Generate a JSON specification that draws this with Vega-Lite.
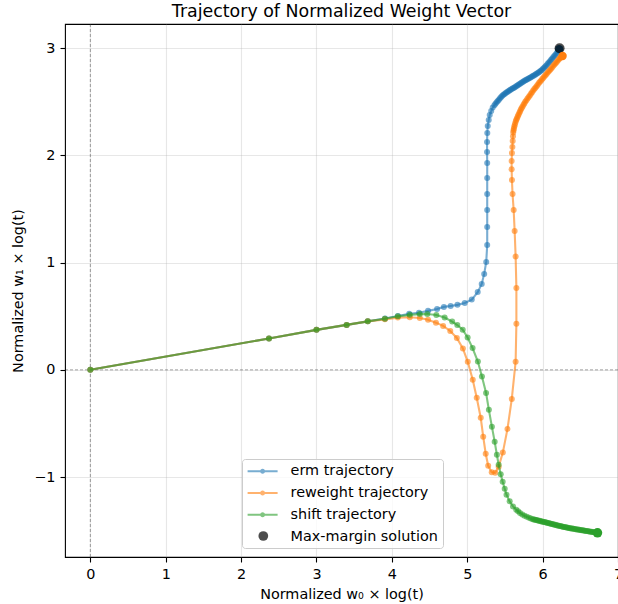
{
  "$schema": "https://vega.github.io/schema/vega-lite/v6.json",
  "width": 553,
  "height": 533,
  "autosize": {"type": "none"},
  "padding": {"left": 65, "top": 24, "right": 0, "bottom": 47},
  "background": "white",
  "title": {"text": "Trajectory of Normalized Weight Vector", "fontSize": 17.4, "font": "DejaVu Sans", "fontWeight": "normal", "color": "#000000", "anchor": "middle", "frame": "group", "offset": 3},
  "config": {
    "font": "DejaVu Sans",
    "view": {"stroke": "#000000", "strokeWidth": 1.1},
    "axis": {"labelFont": "DejaVu Sans", "titleFont": "DejaVu Sans", "labelFontSize": 14.4, "titleFontSize": 14.4, "titleFontWeight": "normal", "labelColor": "#000000", "titleColor": "#000000", "tickColor": "#000000", "tickWidth": 1.1, "tickSize": 5, "domain": false, "gridColor": "#b0b0b0", "gridOpacity": 0.3, "gridWidth": 1.1}
  },
  "datasets": {
    "erm": [
      {"series":"erm trajectory","i":0,"x":0,"y":0},
      {"series":"erm trajectory","i":1,"x":2.37,"y":0.292},
      {"series":"erm trajectory","i":2,"x":3.0,"y":0.373},
      {"series":"erm trajectory","i":3,"x":3.4,"y":0.419},
      {"series":"erm trajectory","i":4,"x":3.68,"y":0.452},
      {"series":"erm trajectory","i":5,"x":3.91,"y":0.478},
      {"series":"erm trajectory","i":6,"x":4.08,"y":0.503},
      {"series":"erm trajectory","i":7,"x":4.23,"y":0.522},
      {"series":"erm trajectory","i":8,"x":4.36,"y":0.533},
      {"series":"erm trajectory","i":9,"x":4.48,"y":0.55},
      {"series":"erm trajectory","i":10,"x":4.6,"y":0.568},
      {"series":"erm trajectory","i":11,"x":4.69,"y":0.587},
      {"series":"erm trajectory","i":12,"x":4.78,"y":0.596},
      {"series":"erm trajectory","i":13,"x":4.87,"y":0.606},
      {"series":"erm trajectory","i":14,"x":4.967,"y":0.624},
      {"series":"erm trajectory","i":15,"x":5.06,"y":0.655},
      {"series":"erm trajectory","i":16,"x":5.139,"y":0.725},
      {"series":"erm trajectory","i":17,"x":5.192,"y":0.801},
      {"series":"erm trajectory","i":18,"x":5.225,"y":0.895},
      {"series":"erm trajectory","i":19,"x":5.252,"y":1.007},
      {"series":"erm trajectory","i":20,"x":5.265,"y":1.165},
      {"series":"erm trajectory","i":21,"x":5.265,"y":1.333},
      {"series":"erm trajectory","i":22,"x":5.265,"y":1.491},
      {"series":"erm trajectory","i":23,"x":5.265,"y":1.64},
      {"series":"erm trajectory","i":24,"x":5.265,"y":1.789},
      {"series":"erm trajectory","i":25,"x":5.265,"y":1.929},
      {"series":"erm trajectory","i":26,"x":5.263,"y":2.032},
      {"series":"erm trajectory","i":27,"x":5.263,"y":2.125},
      {"series":"erm trajectory","i":28,"x":5.266,"y":2.209},
      {"series":"erm trajectory","i":29,"x":5.272,"y":2.274},
      {"series":"erm trajectory","i":30,"x":5.285,"y":2.33},
      {"series":"erm trajectory","i":31,"x":5.298,"y":2.377},
      {"series":"erm trajectory","i":32,"x":5.318,"y":2.414},
      {"series":"erm trajectory","i":33,"x":5.338,"y":2.446},
      {"series":"erm trajectory","i":34,"x":5.36,"y":2.468},
      {"series":"erm trajectory","i":34.5,"x":5.375,"y":2.482},
      {"series":"erm trajectory","i":35,"x":5.39,"y":2.495},
      {"series":"erm trajectory","i":35.5,"x":5.405,"y":2.508},
      {"series":"erm trajectory","i":36,"x":5.42,"y":2.52},
      {"series":"erm trajectory","i":36.5,"x":5.435,"y":2.533},
      {"series":"erm trajectory","i":37,"x":5.45,"y":2.545},
      {"series":"erm trajectory","i":37.5,"x":5.465,"y":2.556},
      {"series":"erm trajectory","i":38,"x":5.48,"y":2.566},
      {"series":"erm trajectory","i":38.5,"x":5.495,"y":2.574},
      {"series":"erm trajectory","i":39,"x":5.51,"y":2.582},
      {"series":"erm trajectory","i":39.5,"x":5.525,"y":2.59},
      {"series":"erm trajectory","i":40,"x":5.54,"y":2.597},
      {"series":"erm trajectory","i":40.5,"x":5.555,"y":2.604},
      {"series":"erm trajectory","i":41,"x":5.57,"y":2.611},
      {"series":"erm trajectory","i":41.5,"x":5.585,"y":2.618},
      {"series":"erm trajectory","i":42,"x":5.6,"y":2.624},
      {"series":"erm trajectory","i":42.5,"x":5.615,"y":2.63},
      {"series":"erm trajectory","i":43,"x":5.63,"y":2.637},
      {"series":"erm trajectory","i":43.5,"x":5.645,"y":2.643},
      {"series":"erm trajectory","i":44,"x":5.66,"y":2.65},
      {"series":"erm trajectory","i":44.5,"x":5.675,"y":2.657},
      {"series":"erm trajectory","i":45,"x":5.69,"y":2.664},
      {"series":"erm trajectory","i":45.5,"x":5.705,"y":2.671},
      {"series":"erm trajectory","i":46,"x":5.72,"y":2.678},
      {"series":"erm trajectory","i":46.5,"x":5.735,"y":2.685},
      {"series":"erm trajectory","i":47,"x":5.75,"y":2.691},
      {"series":"erm trajectory","i":47.5,"x":5.765,"y":2.698},
      {"series":"erm trajectory","i":48,"x":5.78,"y":2.704},
      {"series":"erm trajectory","i":48.5,"x":5.795,"y":2.71},
      {"series":"erm trajectory","i":49,"x":5.81,"y":2.716},
      {"series":"erm trajectory","i":49.5,"x":5.825,"y":2.722},
      {"series":"erm trajectory","i":50,"x":5.84,"y":2.728},
      {"series":"erm trajectory","i":50.5,"x":5.855,"y":2.734},
      {"series":"erm trajectory","i":51,"x":5.87,"y":2.74},
      {"series":"erm trajectory","i":51.5,"x":5.885,"y":2.746},
      {"series":"erm trajectory","i":52,"x":5.9,"y":2.753},
      {"series":"erm trajectory","i":52.5,"x":5.915,"y":2.76},
      {"series":"erm trajectory","i":53,"x":5.93,"y":2.766},
      {"series":"erm trajectory","i":53.5,"x":5.945,"y":2.773},
      {"series":"erm trajectory","i":54,"x":5.96,"y":2.78},
      {"series":"erm trajectory","i":54.5,"x":5.975,"y":2.789},
      {"series":"erm trajectory","i":55,"x":5.99,"y":2.798},
      {"series":"erm trajectory","i":55.5,"x":6.005,"y":2.808},
      {"series":"erm trajectory","i":56,"x":6.02,"y":2.818},
      {"series":"erm trajectory","i":56.5,"x":6.035,"y":2.829},
      {"series":"erm trajectory","i":57,"x":6.05,"y":2.84},
      {"series":"erm trajectory","i":57.5,"x":6.065,"y":2.852},
      {"series":"erm trajectory","i":58,"x":6.08,"y":2.864},
      {"series":"erm trajectory","i":58.5,"x":6.095,"y":2.877},
      {"series":"erm trajectory","i":59,"x":6.11,"y":2.89},
      {"series":"erm trajectory","i":59.5,"x":6.125,"y":2.903},
      {"series":"erm trajectory","i":60,"x":6.14,"y":2.916},
      {"series":"erm trajectory","i":60.5,"x":6.155,"y":2.928},
      {"series":"erm trajectory","i":61,"x":6.17,"y":2.94},
      {"series":"erm trajectory","i":61.5,"x":6.185,"y":2.953},
      {"series":"erm trajectory","i":62,"x":6.2,"y":2.966},
      {"series":"erm trajectory","i":62.5,"x":6.21,"y":2.978},
      {"series":"erm trajectory","i":63,"x":6.22,"y":2.99}
    ],
    "reweight": [
      {"series":"reweight trajectory","i":0,"x":0,"y":0},
      {"series":"reweight trajectory","i":1,"x":2.37,"y":0.292},
      {"series":"reweight trajectory","i":2,"x":3.0,"y":0.373},
      {"series":"reweight trajectory","i":3,"x":3.4,"y":0.419},
      {"series":"reweight trajectory","i":4,"x":3.68,"y":0.452},
      {"series":"reweight trajectory","i":5,"x":3.907,"y":0.471},
      {"series":"reweight trajectory","i":6,"x":4.079,"y":0.487},
      {"series":"reweight trajectory","i":7,"x":4.238,"y":0.491},
      {"series":"reweight trajectory","i":8,"x":4.371,"y":0.483},
      {"series":"reweight trajectory","i":9,"x":4.48,"y":0.468},
      {"series":"reweight trajectory","i":10,"x":4.585,"y":0.44},
      {"series":"reweight trajectory","i":11,"x":4.68,"y":0.41},
      {"series":"reweight trajectory","i":12,"x":4.775,"y":0.362},
      {"series":"reweight trajectory","i":13,"x":4.862,"y":0.297},
      {"series":"reweight trajectory","i":14,"x":4.942,"y":0.2},
      {"series":"reweight trajectory","i":15,"x":5.007,"y":0.075},
      {"series":"reweight trajectory","i":16,"x":5.073,"y":-0.093},
      {"series":"reweight trajectory","i":17,"x":5.126,"y":-0.261},
      {"series":"reweight trajectory","i":18,"x":5.179,"y":-0.447},
      {"series":"reweight trajectory","i":19,"x":5.212,"y":-0.624},
      {"series":"reweight trajectory","i":20,"x":5.245,"y":-0.783},
      {"series":"reweight trajectory","i":21,"x":5.278,"y":-0.895},
      {"series":"reweight trajectory","i":22,"x":5.325,"y":-0.955},
      {"series":"reweight trajectory","i":23,"x":5.371,"y":-0.96},
      {"series":"reweight trajectory","i":24,"x":5.417,"y":-0.904},
      {"series":"reweight trajectory","i":25,"x":5.472,"y":-0.772},
      {"series":"reweight trajectory","i":26,"x":5.534,"y":-0.551},
      {"series":"reweight trajectory","i":27,"x":5.591,"y":-0.271},
      {"series":"reweight trajectory","i":28,"x":5.642,"y":0.075},
      {"series":"reweight trajectory","i":29,"x":5.652,"y":0.429},
      {"series":"reweight trajectory","i":30,"x":5.652,"y":0.764},
      {"series":"reweight trajectory","i":31,"x":5.642,"y":1.058},
      {"series":"reweight trajectory","i":32,"x":5.629,"y":1.295},
      {"series":"reweight trajectory","i":33,"x":5.616,"y":1.491},
      {"series":"reweight trajectory","i":34,"x":5.601,"y":1.64},
      {"series":"reweight trajectory","i":35,"x":5.593,"y":1.771},
      {"series":"reweight trajectory","i":36,"x":5.589,"y":1.87},
      {"series":"reweight trajectory","i":37,"x":5.589,"y":1.948},
      {"series":"reweight trajectory","i":38,"x":5.593,"y":2.022},
      {"series":"reweight trajectory","i":39,"x":5.599,"y":2.078},
      {"series":"reweight trajectory","i":40,"x":5.603,"y":2.134},
      {"series":"reweight trajectory","i":41,"x":5.607,"y":2.18},
      {"series":"reweight trajectory","i":42,"x":5.61,"y":2.215},
      {"series":"reweight trajectory","i":42.5,"x":5.614,"y":2.232},
      {"series":"reweight trajectory","i":43,"x":5.618,"y":2.25},
      {"series":"reweight trajectory","i":43.5,"x":5.624,"y":2.268},
      {"series":"reweight trajectory","i":44,"x":5.63,"y":2.285},
      {"series":"reweight trajectory","i":44.5,"x":5.637,"y":2.302},
      {"series":"reweight trajectory","i":45,"x":5.645,"y":2.32},
      {"series":"reweight trajectory","i":45.5,"x":5.653,"y":2.335},
      {"series":"reweight trajectory","i":46,"x":5.662,"y":2.35},
      {"series":"reweight trajectory","i":46.5,"x":5.671,"y":2.365},
      {"series":"reweight trajectory","i":47,"x":5.68,"y":2.38},
      {"series":"reweight trajectory","i":47.5,"x":5.69,"y":2.395},
      {"series":"reweight trajectory","i":48,"x":5.7,"y":2.41},
      {"series":"reweight trajectory","i":48.5,"x":5.71,"y":2.425},
      {"series":"reweight trajectory","i":49,"x":5.72,"y":2.44},
      {"series":"reweight trajectory","i":49.5,"x":5.732,"y":2.455},
      {"series":"reweight trajectory","i":50,"x":5.745,"y":2.47},
      {"series":"reweight trajectory","i":50.5,"x":5.757,"y":2.485},
      {"series":"reweight trajectory","i":51,"x":5.77,"y":2.5},
      {"series":"reweight trajectory","i":51.5,"x":5.785,"y":2.515},
      {"series":"reweight trajectory","i":52,"x":5.8,"y":2.53},
      {"series":"reweight trajectory","i":52.5,"x":5.815,"y":2.545},
      {"series":"reweight trajectory","i":53,"x":5.83,"y":2.56},
      {"series":"reweight trajectory","i":53.5,"x":5.845,"y":2.575},
      {"series":"reweight trajectory","i":54,"x":5.86,"y":2.59},
      {"series":"reweight trajectory","i":54.5,"x":5.875,"y":2.605},
      {"series":"reweight trajectory","i":55,"x":5.89,"y":2.62},
      {"series":"reweight trajectory","i":55.5,"x":5.905,"y":2.632},
      {"series":"reweight trajectory","i":56,"x":5.92,"y":2.645},
      {"series":"reweight trajectory","i":56.5,"x":5.935,"y":2.66},
      {"series":"reweight trajectory","i":57,"x":5.95,"y":2.675},
      {"series":"reweight trajectory","i":57.5,"x":5.965,"y":2.688},
      {"series":"reweight trajectory","i":58,"x":5.98,"y":2.7},
      {"series":"reweight trajectory","i":58.5,"x":5.995,"y":2.712},
      {"series":"reweight trajectory","i":59,"x":6.01,"y":2.725},
      {"series":"reweight trajectory","i":59.5,"x":6.025,"y":2.738},
      {"series":"reweight trajectory","i":60,"x":6.04,"y":2.75},
      {"series":"reweight trajectory","i":60.5,"x":6.055,"y":2.762},
      {"series":"reweight trajectory","i":61,"x":6.07,"y":2.775},
      {"series":"reweight trajectory","i":61.5,"x":6.085,"y":2.788},
      {"series":"reweight trajectory","i":62,"x":6.1,"y":2.8},
      {"series":"reweight trajectory","i":62.5,"x":6.115,"y":2.812},
      {"series":"reweight trajectory","i":63,"x":6.13,"y":2.825},
      {"series":"reweight trajectory","i":63.5,"x":6.145,"y":2.838},
      {"series":"reweight trajectory","i":64,"x":6.16,"y":2.85},
      {"series":"reweight trajectory","i":64.5,"x":6.175,"y":2.862},
      {"series":"reweight trajectory","i":65,"x":6.19,"y":2.875},
      {"series":"reweight trajectory","i":65.5,"x":6.205,"y":2.888},
      {"series":"reweight trajectory","i":66,"x":6.22,"y":2.9},
      {"series":"reweight trajectory","i":66.5,"x":6.232,"y":2.908},
      {"series":"reweight trajectory","i":67,"x":6.245,"y":2.915},
      {"series":"reweight trajectory","i":67.5,"x":6.255,"y":2.921},
      {"series":"reweight trajectory","i":68,"x":6.265,"y":2.927}
    ],
    "shift": [
      {"series":"shift trajectory","i":0,"x":0,"y":0},
      {"series":"shift trajectory","i":1,"x":2.37,"y":0.292},
      {"series":"shift trajectory","i":2,"x":3.0,"y":0.373},
      {"series":"shift trajectory","i":3,"x":3.4,"y":0.419},
      {"series":"shift trajectory","i":4,"x":3.68,"y":0.452},
      {"series":"shift trajectory","i":5,"x":3.907,"y":0.476},
      {"series":"shift trajectory","i":6,"x":4.079,"y":0.499},
      {"series":"shift trajectory","i":7,"x":4.238,"y":0.513},
      {"series":"shift trajectory","i":8,"x":4.371,"y":0.52},
      {"series":"shift trajectory","i":9,"x":4.47,"y":0.521},
      {"series":"shift trajectory","i":10,"x":4.59,"y":0.511},
      {"series":"shift trajectory","i":11,"x":4.7,"y":0.488},
      {"series":"shift trajectory","i":12,"x":4.8,"y":0.45},
      {"series":"shift trajectory","i":13,"x":4.868,"y":0.418},
      {"series":"shift trajectory","i":14,"x":4.94,"y":0.375},
      {"series":"shift trajectory","i":15,"x":5.005,"y":0.302},
      {"series":"shift trajectory","i":16,"x":5.071,"y":0.203},
      {"series":"shift trajectory","i":17,"x":5.141,"y":0.077},
      {"series":"shift trajectory","i":18,"x":5.195,"y":-0.063},
      {"series":"shift trajectory","i":19,"x":5.25,"y":-0.215},
      {"series":"shift trajectory","i":20,"x":5.287,"y":-0.373},
      {"series":"shift trajectory","i":21,"x":5.327,"y":-0.53},
      {"series":"shift trajectory","i":22,"x":5.364,"y":-0.67},
      {"series":"shift trajectory","i":23,"x":5.393,"y":-0.792},
      {"series":"shift trajectory","i":24,"x":5.417,"y":-0.885},
      {"series":"shift trajectory","i":25,"x":5.444,"y":-0.974},
      {"series":"shift trajectory","i":26,"x":5.47,"y":-1.044},
      {"series":"shift trajectory","i":27,"x":5.497,"y":-1.109},
      {"series":"shift trajectory","i":28,"x":5.521,"y":-1.165},
      {"series":"shift trajectory","i":29,"x":5.563,"y":-1.227},
      {"series":"shift trajectory","i":30,"x":5.607,"y":-1.274},
      {"series":"shift trajectory","i":31,"x":5.65,"y":-1.305},
      {"series":"shift trajectory","i":31.5,"x":5.675,"y":-1.32},
      {"series":"shift trajectory","i":32,"x":5.7,"y":-1.335},
      {"series":"shift trajectory","i":32.5,"x":5.73,"y":-1.349},
      {"series":"shift trajectory","i":33,"x":5.76,"y":-1.362},
      {"series":"shift trajectory","i":33.5,"x":5.79,"y":-1.371},
      {"series":"shift trajectory","i":34,"x":5.82,"y":-1.38},
      {"series":"shift trajectory","i":34.5,"x":5.845,"y":-1.388},
      {"series":"shift trajectory","i":35,"x":5.87,"y":-1.395},
      {"series":"shift trajectory","i":35.5,"x":5.885,"y":-1.397},
      {"series":"shift trajectory","i":36,"x":5.9,"y":-1.399},
      {"series":"shift trajectory","i":36.5,"x":5.915,"y":-1.402},
      {"series":"shift trajectory","i":37,"x":5.93,"y":-1.404},
      {"series":"shift trajectory","i":37.5,"x":5.945,"y":-1.407},
      {"series":"shift trajectory","i":38,"x":5.96,"y":-1.409},
      {"series":"shift trajectory","i":38.5,"x":5.975,"y":-1.412},
      {"series":"shift trajectory","i":39,"x":5.99,"y":-1.414},
      {"series":"shift trajectory","i":39.5,"x":6.005,"y":-1.417},
      {"series":"shift trajectory","i":40,"x":6.02,"y":-1.419},
      {"series":"shift trajectory","i":40.5,"x":6.035,"y":-1.422},
      {"series":"shift trajectory","i":41,"x":6.05,"y":-1.425},
      {"series":"shift trajectory","i":41.5,"x":6.065,"y":-1.428},
      {"series":"shift trajectory","i":42,"x":6.08,"y":-1.43},
      {"series":"shift trajectory","i":42.5,"x":6.095,"y":-1.433},
      {"series":"shift trajectory","i":43,"x":6.11,"y":-1.436},
      {"series":"shift trajectory","i":43.5,"x":6.125,"y":-1.439},
      {"series":"shift trajectory","i":44,"x":6.14,"y":-1.441},
      {"series":"shift trajectory","i":44.5,"x":6.155,"y":-1.444},
      {"series":"shift trajectory","i":45,"x":6.17,"y":-1.446},
      {"series":"shift trajectory","i":45.5,"x":6.185,"y":-1.449},
      {"series":"shift trajectory","i":46,"x":6.2,"y":-1.452},
      {"series":"shift trajectory","i":46.5,"x":6.215,"y":-1.455},
      {"series":"shift trajectory","i":47,"x":6.23,"y":-1.457},
      {"series":"shift trajectory","i":47.5,"x":6.245,"y":-1.46},
      {"series":"shift trajectory","i":48,"x":6.26,"y":-1.462},
      {"series":"shift trajectory","i":48.5,"x":6.275,"y":-1.465},
      {"series":"shift trajectory","i":49,"x":6.29,"y":-1.467},
      {"series":"shift trajectory","i":49.5,"x":6.305,"y":-1.469},
      {"series":"shift trajectory","i":50,"x":6.32,"y":-1.471},
      {"series":"shift trajectory","i":50.5,"x":6.335,"y":-1.473},
      {"series":"shift trajectory","i":51,"x":6.35,"y":-1.475},
      {"series":"shift trajectory","i":51.5,"x":6.365,"y":-1.477},
      {"series":"shift trajectory","i":52,"x":6.38,"y":-1.479},
      {"series":"shift trajectory","i":52.5,"x":6.395,"y":-1.481},
      {"series":"shift trajectory","i":53,"x":6.41,"y":-1.483},
      {"series":"shift trajectory","i":53.5,"x":6.425,"y":-1.485},
      {"series":"shift trajectory","i":54,"x":6.44,"y":-1.487},
      {"series":"shift trajectory","i":54.5,"x":6.455,"y":-1.489},
      {"series":"shift trajectory","i":55,"x":6.47,"y":-1.49},
      {"series":"shift trajectory","i":55.5,"x":6.485,"y":-1.492},
      {"series":"shift trajectory","i":56,"x":6.5,"y":-1.494},
      {"series":"shift trajectory","i":56.5,"x":6.515,"y":-1.496},
      {"series":"shift trajectory","i":57,"x":6.53,"y":-1.497},
      {"series":"shift trajectory","i":57.5,"x":6.545,"y":-1.499},
      {"series":"shift trajectory","i":58,"x":6.56,"y":-1.501},
      {"series":"shift trajectory","i":58.5,"x":6.575,"y":-1.503},
      {"series":"shift trajectory","i":59,"x":6.59,"y":-1.504},
      {"series":"shift trajectory","i":59.5,"x":6.605,"y":-1.506},
      {"series":"shift trajectory","i":60,"x":6.62,"y":-1.508},
      {"series":"shift trajectory","i":60.5,"x":6.635,"y":-1.51},
      {"series":"shift trajectory","i":61,"x":6.65,"y":-1.511},
      {"series":"shift trajectory","i":61.5,"x":6.665,"y":-1.513},
      {"series":"shift trajectory","i":62,"x":6.68,"y":-1.515},
      {"series":"shift trajectory","i":62.5,"x":6.695,"y":-1.517},
      {"series":"shift trajectory","i":63,"x":6.71,"y":-1.518},
      {"series":"shift trajectory","i":64,"x":6.728,"y":-1.52}
    ],
    "ends": [
      {"series":"erm trajectory","x":6.22,"y":2.99},
      {"series":"reweight trajectory","x":6.265,"y":2.927},
      {"series":"shift trajectory","x":6.728,"y":-1.52}
    ],
    "mm": [
      {"series":"Max-margin solution","x":6.225,"y":3.0}
    ]
  },
  "layer": [
    {
      "data": {"values": [{}]},
      "mark": {"type": "rule", "color": "#000000", "opacity": 0.5, "strokeWidth": 0.7, "strokeDash": [3, 2]},
      "encoding": {
        "x": {"datum": 0, "type": "quantitative", "scale": {"domain": [-0.336, 7.0], "nice": false, "zero": false},
              "axis": {"values": [0, 1, 2, 3, 4, 5, 6, 7], "format": "d", "title": "Normalized w₀ × log(t)", "labelFlush": false, "labelPadding": 5, "titlePadding": 7, "grid": true}}
      }
    },
    {
      "data": {"values": [{}]},
      "mark": {"type": "rule", "color": "#000000", "opacity": 0.5, "strokeWidth": 0.7, "strokeDash": [3, 2]},
      "encoding": {
        "y": {"datum": 0, "type": "quantitative", "scale": {"domain": [-1.746, 3.226], "nice": false, "zero": false},
              "axis": {"values": [-1, 0, 1, 2, 3], "format": "d", "title": "Normalized w₁ × log(t)", "labelPadding": 5, "titlePadding": 8, "grid": true}}
      }
    },
    {
      "data": {"name": "erm"},
      "mark": {"type": "line", "strokeWidth": 2.1, "opacity": 0.6},
      "encoding": {
        "x": {"field": "x", "type": "quantitative", "scale": {"domain": [-0.336, 7.0], "nice": false, "zero": false},
              "axis": {"values": [0, 1, 2, 3, 4, 5, 6, 7], "format": "d", "title": "Normalized w₀ × log(t)", "labelFlush": false, "labelPadding": 5, "titlePadding": 7, "grid": true}},
        "y": {"field": "y", "type": "quantitative", "scale": {"domain": [-1.746, 3.226], "nice": false, "zero": false},
              "axis": {"values": [-1, 0, 1, 2, 3], "format": "d", "title": "Normalized w₁ × log(t)", "labelPadding": 5, "titlePadding": 8, "grid": true}},
        "order": {"field": "i", "type": "quantitative"},
        "color": {
          "field": "series", "type": "nominal",
          "scale": {"domain": ["erm trajectory", "reweight trajectory", "shift trajectory", "Max-margin solution"], "range": ["#1f77b4", "#ff7f0e", "#2ca02c", "transparent"]},
          "legend": {
            "title": null, "orient": "none", "legendX": 177, "legendY": 435,
            "padding": 5, "rowPadding": 6.8,
            "labelFont": "DejaVu Sans", "labelFontSize": 14.4, "labelColor": "#000000",
            "labelOffset": 20.8, "symbolOffset": 8.4, "symbolSize": 144, "symbolStrokeWidth": 2,
            "symbolType": "M-2.5,0L2.5,0M-0.25,0A0.25,0.25,0,1,0,0.25,0A0.25,0.25,0,1,0,-0.25,0Z",
            "strokeColor": "#cccccc", "fillColor": "rgba(255,255,255,0.8)", "cornerRadius": 3, "labelLimit": 400
          }
        }
      }
    },
    {
      "data": {"name": "erm"},
      "mark": {"type": "point", "filled": true, "shape": "circle", "size": 36, "opacity": 0.6},
      "encoding": {
        "x": {"field": "x", "type": "quantitative"},
        "y": {"field": "y", "type": "quantitative"},
        "color": {"field": "series", "type": "nominal"}
      }
    },
    {
      "data": {"name": "ends"},
      "transform": [{"filter": {"field": "series", "equal": "erm trajectory"}}],
      "mark": {"type": "point", "filled": true, "shape": "circle", "size": 70, "opacity": 1},
      "encoding": {
        "x": {"field": "x", "type": "quantitative"},
        "y": {"field": "y", "type": "quantitative"},
        "color": {"field": "series", "type": "nominal"}
      }
    },
    {
      "data": {"name": "mm"},
      "mark": {"type": "point", "filled": true, "size": 100, "opacity": 0.7, "color": "#000000"},
      "encoding": {
        "x": {"field": "x", "type": "quantitative"},
        "y": {"field": "y", "type": "quantitative"},
        "shape": {
          "field": "series", "type": "nominal",
          "scale": {"domain": ["Max-margin solution"], "range": ["circle"]},
          "legend": {
            "title": null, "orient": "none", "legendX": 193.3, "legendY": 507, "padding": 0,
            "labelExpr": "''", "labelFontSize": 10, "symbolSize": 95, "symbolFillColor": "#000000",
            "symbolStrokeColor": "transparent", "symbolStrokeWidth": 0, "symbolOpacity": 0.7, "symbolOffset": 0
          }
        }
      }
    },
    {
      "data": {"name": "reweight"},
      "mark": {"type": "line", "strokeWidth": 2.1, "opacity": 0.6},
      "encoding": {
        "x": {"field": "x", "type": "quantitative"},
        "y": {"field": "y", "type": "quantitative"},
        "order": {"field": "i", "type": "quantitative"},
        "color": {"field": "series", "type": "nominal"}
      }
    },
    {
      "data": {"name": "reweight"},
      "mark": {"type": "point", "filled": true, "shape": "circle", "size": 36, "opacity": 0.6},
      "encoding": {
        "x": {"field": "x", "type": "quantitative"},
        "y": {"field": "y", "type": "quantitative"},
        "color": {"field": "series", "type": "nominal"}
      }
    },
    {
      "data": {"name": "ends"},
      "transform": [{"filter": {"field": "series", "equal": "reweight trajectory"}}],
      "mark": {"type": "point", "filled": true, "shape": "circle", "size": 70, "opacity": 1},
      "encoding": {
        "x": {"field": "x", "type": "quantitative"},
        "y": {"field": "y", "type": "quantitative"},
        "color": {"field": "series", "type": "nominal"}
      }
    },
    {
      "data": {"name": "shift"},
      "mark": {"type": "line", "strokeWidth": 2.1, "opacity": 0.6},
      "encoding": {
        "x": {"field": "x", "type": "quantitative"},
        "y": {"field": "y", "type": "quantitative"},
        "order": {"field": "i", "type": "quantitative"},
        "color": {"field": "series", "type": "nominal"}
      }
    },
    {
      "data": {"name": "shift"},
      "mark": {"type": "point", "filled": true, "shape": "circle", "size": 36, "opacity": 0.6},
      "encoding": {
        "x": {"field": "x", "type": "quantitative"},
        "y": {"field": "y", "type": "quantitative"},
        "color": {"field": "series", "type": "nominal"}
      }
    },
    {
      "data": {"name": "ends"},
      "transform": [{"filter": {"field": "series", "equal": "shift trajectory"}}],
      "mark": {"type": "point", "filled": true, "shape": "circle", "size": 90, "opacity": 1},
      "encoding": {
        "x": {"field": "x", "type": "quantitative"},
        "y": {"field": "y", "type": "quantitative"},
        "color": {"field": "series", "type": "nominal"}
      }
    }
  ]
}
